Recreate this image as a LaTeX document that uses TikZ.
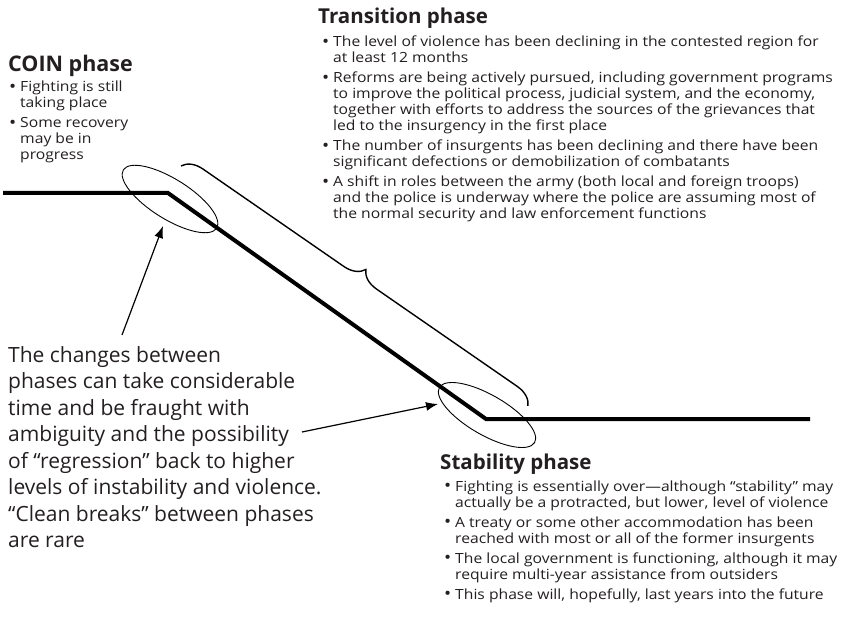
\documentclass[tikz,border=0pt]{standalone}
\usepackage{fontspec}
\setmainfont{Open Sans}
\newfontfamily\bodyfont[FakeStretch=1.12]{Open Sans}
\usetikzlibrary{decorations.pathreplacing,arrows.meta,shapes.geometric}
\definecolor{ink}{RGB}{35,31,32}
\newcommand\bitem[1]{\hangindent=11pt\hangafter=1\noindent\makebox[11pt][l]{\raisebox{-0.3pt}{\fontsize{17}{16}\selectfont •}}#1\par}
\newcommand\blist[2]{\parbox[t]{#1}{\parskip=4pt\parindent=0pt\rightskip=0pt plus 1fil #2}}
\begin{document}
\begin{tikzpicture}[x=1pt,y=-1pt,
  heading/.style={anchor=base west,inner sep=0,text=ink,font=\fontsize{20.5}{24}\selectfont\bfseries},
  bullets/.style={anchor=base west,inner sep=0,text=ink,font=\bodyfont\fontsize{14}{16}\selectfont},
  bigtext/.style={anchor=base west,inner sep=0,text=ink,font=\fontsize{21}{26.5}\selectfont},
  phaseline/.style={draw=black,line width=4pt},
  oval/.style={draw=black,line width=0.9pt},
  pointer/.style={draw=black,line width=1.2pt,-{Latex[length=12pt,width=9pt]}},
  bracket/.style={draw=black,line width=1.4pt,decorate,decoration={brace,amplitude=20pt}}]
\useasboundingbox (0,0) rectangle (862,628);

% main phase line
\coordinate (p0) at (3,193);
\coordinate (p1) at (168,193);
\coordinate (p2) at (486,419);
\coordinate (p3) at (810,419);
\draw[phaseline] (p0) -- (p1) -- (p2) -- (p3);

% ellipses
\draw[oval,rotate around={-32:(170,199)}] (170,199) ellipse [x radius=55,y radius=20];
\draw[oval,rotate around={-30:(487,415)}] (487,415) ellipse [x radius=55,y radius=20];

% brace
\coordinate (b0) at (181,166);
\coordinate (b1) at (528,406);
\draw[bracket] (b0) -- (b1);

% headings
\node[heading,font=\fontsize{21.5}{24}\selectfont\bfseries] (coinh) at (8,72) {COIN phase};
\node[heading] (transh) at (318,24) {Transition phase};
\node[heading] (stabh) at (440,469) {Stability phase};

% lists
\node[bullets] (coinl) at (9,92) {\blist{200pt}{%
\bitem{Fighting is still\\taking place}%
\bitem{Some recovery\\may be in\\progress}}};

\node[bullets] (transl) at (322,47) {\blist{560pt}{%
\bitem{The level of violence has been declining in the contested region for\\at least 12 months}%
\bitem{Reforms are being actively pursued, including government programs\\to improve the political process, judicial system, and the economy,\\together with efforts to address the sources of the grievances that\\led to the insurgency in the first place}%
\bitem{The number of insurgents has been declining and there have been\\significant defections or demobilization of combatants}%
\bitem{A shift in roles between the army (both local and foreign troops)\\and the police is underway where the police are assuming most of\\the normal security and law enforcement functions}}};

\node[bullets] (stabl) at (444,491) {\blist{440pt}{%
\bitem{Fighting is essentially over—although “stability” may\\actually be a protracted, but lower, level of violence}%
\bitem{A treaty or some other accommodation has been\\reached with most or all of the former insurgents}%
\bitem{The local government is functioning, although it may\\require multi-year assistance from outsiders}%
\bitem{This phase will, hopefully, last years into the future}}};

% left note
\node[bigtext] (note) at (8,362) {\begin{tabular}[t]{@{}l@{}}
The changes between\\
phases can take considerable\\
time and be fraught with\\
ambiguity and the possibility\\
of “regression” back to higher\\
levels of instability and violence.\\
“Clean breaks” between phases\\
are rare
\end{tabular}};

% arrows
\coordinate (a1s) at (122,335);
\coordinate (a1e) at (163,226);
\coordinate (a2s) at (302,432);
\coordinate (a2e) at (438,404);
\draw[pointer] (a1s) -- (a1e);
\draw[pointer] (a2s) -- (a2e);
\end{tikzpicture}
\end{document}
